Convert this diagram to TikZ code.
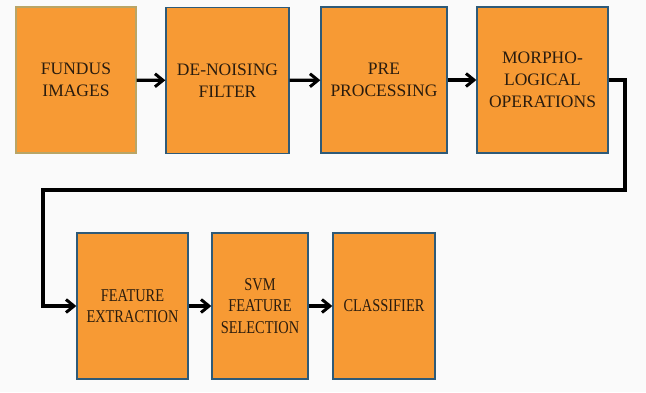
\documentclass[tikz,border=0pt]{standalone}
\usepackage{fontspec}
\setmainfont{Liberation Serif}
\newfontfamily\narrowserif[FakeStretch=0.8]{Liberation Serif}
\usetikzlibrary{arrows.meta}
\definecolor{boxfill}{HTML}{F79A34}
\definecolor{boxline}{HTML}{2E5A78}
\definecolor{firstline}{HTML}{B9A566}
\definecolor{txt}{HTML}{2A1C0E}
\definecolor{bg}{HTML}{FAFAFA}
\begin{document}
\begin{tikzpicture}[x=1pt,y=-1pt,
  blk/.style={draw=boxline,line width=1.3pt,fill=boxfill,align=center,text=txt,
    font=\fontsize{17.5}{22}\selectfont,minimum height=146pt,inner sep=1pt},
  lowblk/.style={blk,font=\narrowserif\fontsize{18}{21.5}\selectfont},
  conn/.style={line width=3.2pt,-{Straight Barb[length=8pt,width=13pt,line width=3pt]}}]
\fill[bg] (0,0) rectangle (646,392);
\useasboundingbox (0,0) rectangle (646,392);
\node[blk,draw=firstline,minimum width=120pt] (b1) at (76,80) {FUNDUS\\IMAGES};
\node[blk,minimum width=123pt] (b2) at (227.5,80.5) {DE-NOISING\\FILTER};
\node[blk,minimum width=126pt] (b3) at (384,80) {PRE\\PROCESSING};
\node[blk,minimum width=131pt] (b4) at (542.5,80) {MORPHO-\\LOGICAL\\OPERATIONS};
\node[lowblk,minimum width=111pt] (b5) at (132.5,306) {FEATURE\\EXTRACTION};
\node[lowblk,minimum width=96pt] (b6) at (260,306) {SVM\\FEATURE\\SELECTION};
\node[lowblk,minimum width=102pt] (b7) at (384,306) {CLASSIFIER};
\coordinate (c1) at (625,190);
\coordinate (c2) at (43,190);
\draw[conn] (b1) -- (b2);
\draw[conn] (b2) -- (b3);
\draw[conn] (b3) -- (b4);
\draw[conn,line join=miter] (b4.east) -| (c1) -- (c2) |- (b5.west);
\draw[conn] (b5) -- (b6);
\draw[conn] (b6) -- (b7);
\end{tikzpicture}
\end{document}
